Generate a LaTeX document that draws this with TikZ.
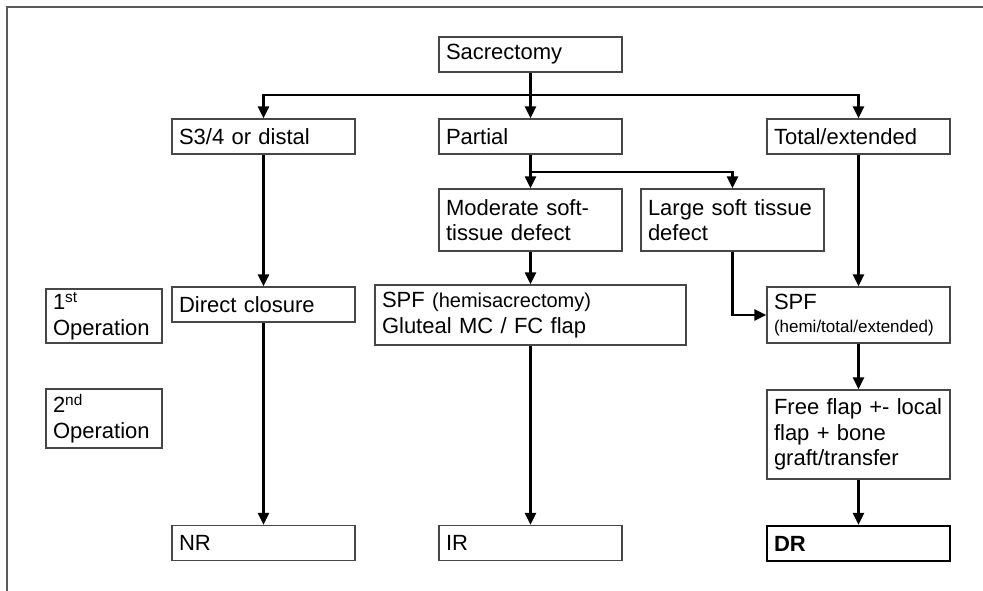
\documentclass[tikz,border=0pt]{standalone}
\usepackage{fontspec}
\setmainfont{Liberation Sans}
\usetikzlibrary{arrows.meta}
\tikzset{every picture/.style={line width=2.4pt}}

\begin{document}
\begin{tikzpicture}[box/.style={draw=black!72, line width=1.4pt, rectangle, minimum width=183pt, minimum height=35pt, text width=169pt, inner xsep=7pt, align=left, font=\fontsize{22pt}{25.5pt}\selectfont},
    wide/.style={box, minimum width=311pt, text width=297pt},
    stage/.style={box, minimum width=116pt, text width=102pt},
    link/.style={line width=2.4pt},
    flow/.style={link, -{Triangle[length=12pt,width=11pt]}},
    frame/.style={draw=black!65, line width=1.5pt}]
        \useasboundingbox (0pt,0pt) rectangle (983pt,-591pt);
        \draw[frame] (7pt,-591pt) -- (7pt,-7pt) -- (983pt,-7pt);

        \node[box] (sac) at (530.5pt,-54.5pt) {Sacrectomy};
        \node[box,below of=sac,node distance=82pt] (part) {Partial};
        \node[box,left of=part,node distance=267pt] (s34) {S3/4 or distal};
        \node[box,right of=part,node distance=328pt] (tot) {Total/extended};
        \node[box,below of=part,node distance=83.5pt,minimum height=62pt] (mod) {Moderate soft-\\tissue defect};
        \node[box,right of=mod,node distance=202pt,minimum height=62pt] (large) {Large soft tissue\\defect};
        \node[wide,below of=mod,node distance=95pt,minimum height=60pt] (spfm) {SPF {\fontsize{20pt}{24pt}\selectfont (hemisacrectomy)}\\Gluteal MC / FC flap};
        \node[box,below of=s34,node distance=168pt] (dc) {Direct closure};
        \node[box,below of=tot,node distance=178.5pt,minimum height=56pt] (spfr) {SPF\\[-3pt]{\fontsize{17pt}{20pt}\selectfont (hemi/total/extended)}};
        \node[box,below of=spfr,node distance=119.5pt,minimum height=89pt] (free) {Free flap +- local\\flap + bone\\graft/transfer};
        \node[box,below of=free,node distance=109pt,draw=black,line width=2.2pt] (dr) {\textbf{DR}};
        \node[box,below of=spfm,node distance=228pt] (ir) {IR};
        \node[box,below of=dc,node distance=238.5pt] (nr) {NR};
        \node[stage] (op1) at (104pt,-316pt) {1\textsuperscript{st}\\Operation};
        \node[stage,below of=op1,node distance=102.5pt,minimum height=59pt] (op2) {2\textsuperscript{nd}\\Operation};

        % branch points
        \coordinate[below of=sac,node distance=40.5pt] (j1);
        \coordinate[below of=part,node distance=35.5pt] (j2);

        \draw[link] (sac) -- (j1);
        \draw[flow] (j1) -| (s34);
        \draw[flow] (j1) -- (part);
        \draw[flow] (j1) -| (tot);
        \draw[link] (part) -- (j2);
        \draw[flow] (j2) -- (mod);
        \draw[flow] (j2) -| (large);
        \draw[flow] (mod) -- (spfm);
        \draw[flow] (large) |- (spfr);
        \draw[flow] (tot) -- (spfr);
        \draw[flow] (spfr) -- (free);
        \draw[flow] (free) -- (dr);
        \draw[flow] (s34) -- (dc);
        \draw[flow] (dc) -- (nr);
        \draw[flow] (spfm) -- (ir);
    \end{tikzpicture}
\end{document}
